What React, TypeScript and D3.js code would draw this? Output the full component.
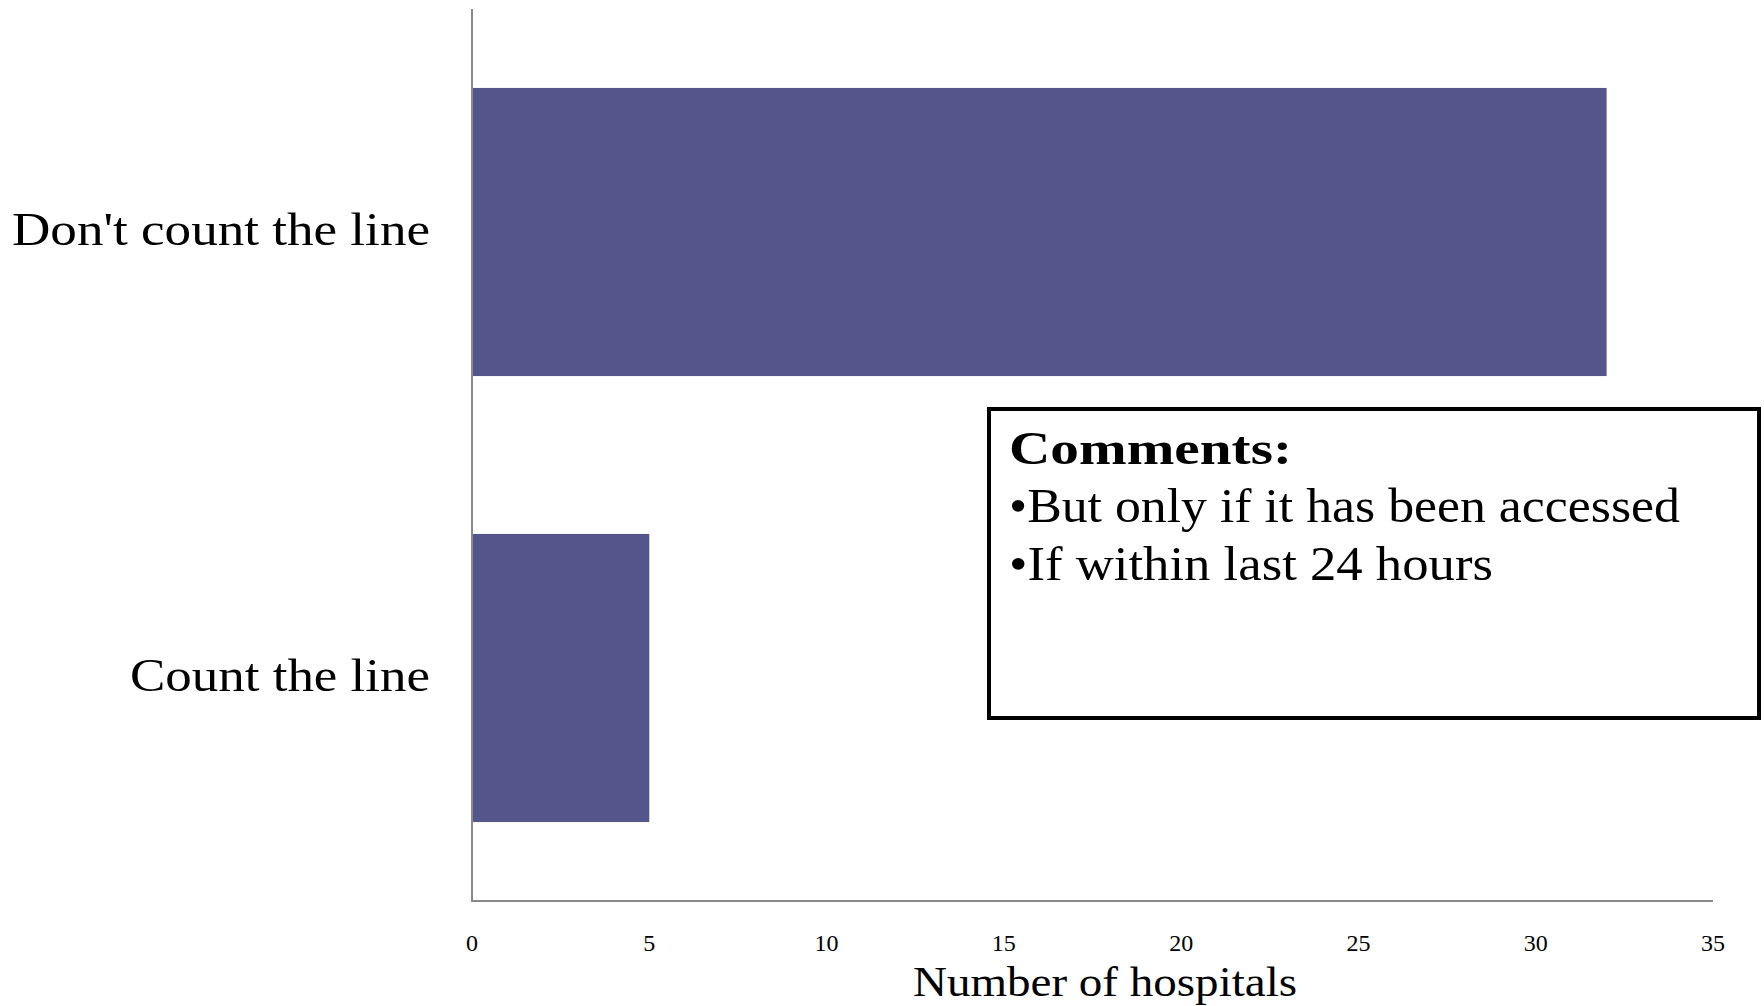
import React from "react";
import * as d3 from "d3";

const categories = ["Don't count the line", "Count the line"];
const values = [32, 5];
const xTicks = [0, 5, 10, 15, 20, 25, 30, 35];
const axisTitle = "Number of hospitals";
const commentTitle = "Comments:";
const commentLines = ["•But only if it has been accessed", "•If within last 24 hours"];

const W = 1764;
const H = 1006;
const FONT = "'Liberation Serif', 'DejaVu Serif', serif";
// rendered widths of the category labels
const labelWidths = [418, 300];

export default function App() {
  const x = d3.scaleLinear().domain([0, 35]).range([472, 1713]);
  const y = d3
    .scaleBand<string>()
    .domain(categories)
    .range([9, 901])
    .paddingInner(0.354)
    .paddingOuter(0.177);

  return (
    <svg
      width={W}
      height={H}
      style={{ position: "absolute", left: 0, top: 0, background: "#fff" }}
    >
      {/* bars */}
      {categories.map((c, i) => (
        <rect
          key={c}
          x={x(0)}
          y={y(c)!}
          width={x(values[i]) - x(0)}
          height={y.bandwidth()}
          fill="#54558A"
        />
      ))}

      {/* axes */}
      <line x1={x(0)} x2={x(0)} y1={9} y2={901} stroke="#888" strokeWidth={2} />
      <line x1={x(0) - 1} x2={x(35)} y1={901} y2={901} stroke="#888" strokeWidth={2} />

      {/* category labels */}
      {categories.map((c, i) => (
        <text
          key={c}
          x={430}
          y={y(c)! + y.bandwidth() / 2 + 13}
          textAnchor="end"
          fontFamily={FONT}
          fontSize={47}
          fill="#000"
          textLength={labelWidths[i]}
          lengthAdjust="spacingAndGlyphs"
        >
          {c}
        </text>
      ))}

      {/* tick labels */}
      {xTicks.map((t) => (
        <text
          key={t}
          x={x(t)}
          y={951}
          textAnchor="middle"
          fontFamily={FONT}
          fontSize={24}
          fill="#000"
        >
          {t}
        </text>
      ))}

      <text
        x={1105}
        y={996}
        textAnchor="middle"
        fontFamily={FONT}
        fontSize={42}
        fill="#000"
        textLength={384}
        lengthAdjust="spacingAndGlyphs"
      >
        {axisTitle}
      </text>

      {/* comments box */}
      <rect x={989} y={409} width={770} height={309} fill="#fff" stroke="#000" strokeWidth={4} />
      <text
        x={1009}
        y={464}
        fontFamily={FONT}
        fontSize={46}
        fontWeight="bold"
        fill="#000"
        textLength={283}
        lengthAdjust="spacingAndGlyphs"
      >
        {commentTitle}
      </text>
      {commentLines.map((l, i) => (
        <text
          key={l}
          x={1009}
          y={522 + i * 58}
          fontFamily={FONT}
          fontSize={48}
          fill="#000"
          textLength={i === 0 ? 671 : 484}
          lengthAdjust="spacingAndGlyphs"
        >
          {l}
        </text>
      ))}
    </svg>
  );
}
